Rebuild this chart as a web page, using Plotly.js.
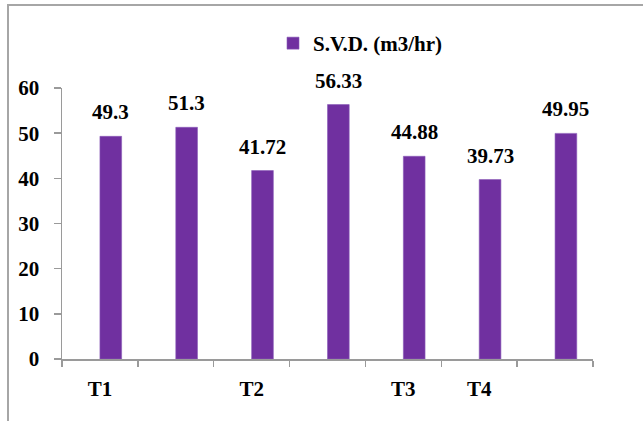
<!DOCTYPE html>
<html>
<head>
<meta charset="utf-8">
<script src="https://cdn.plot.ly/plotly-3.0.1.min.js"></script>
<style>
  html, body { margin: 0; padding: 0; background: #ffffff; }
  #chart { width: 643px; height: 421px; }
</style>
</head>
<body>
<div id="chart"></div>
<script>
// ---- data ----
const categories = ["T1", " ", "T2", "  ", "T3", "T4", "   "];
const svdValues = [49.3, 51.3, 41.72, 56.33, 44.88, 39.73, 49.95];
const svdLabels = ["49.3", "51.3", "41.72", "56.33", "44.88", "39.73", "49.95"];
const seriesName = "S.V.D. (m3/hr)";
const yTicks = [0, 10, 20, 30, 40, 50, 60];

// ---- style ----
const W = 643, H = 421;
const M = { l: 62, r: 50, t: 88, b: 62 };
const plotW = W - M.l - M.r, plotH = H - M.t - M.b;
const barWidth = 0.286;
const purple = "#7030A0";
const axisGray = "#9a9a9a";
const font = "Times New Roman, Liberation Serif, DejaVu Serif, serif";

function px2paperX(px) { return (px - M.l) / plotW; }
function px2paperY(py) { return (H - M.b - py) / plotH; }

const trace = {
  type: "bar",
  name: seriesName,
  x: categories,
  y: svdValues,
  width: barWidth,
  offset: 0,
  marker: { color: purple, line: { color: "#8a5bb8", width: 0.6 } },
  hoverinfo: "skip",
  showlegend: true
};

const annotations = svdValues.map((v, i) => ({
  x: i + barWidth / 2,
  y: v,
  xref: "x",
  yref: "y",
  text: "<b>" + svdLabels[i] + "</b>",
  showarrow: false,
  xanchor: "center",
  yanchor: "bottom",
  yshift: 10,
  font: { family: font, size: 21, color: "#000000" }
}));

const shapes = [
  { type: "line", xref: "paper", yref: "paper",
    x0: px2paperX(8), x1: px2paperX(8), y0: px2paperY(5), y1: px2paperY(H + 2),
    line: { color: "#a6a6a6", width: 2 } },
  { type: "line", xref: "paper", yref: "paper",
    x0: px2paperX(7), x1: px2paperX(W + 2), y0: px2paperY(5), y1: px2paperY(5),
    line: { color: "#a6a6a6", width: 2 } }
];

const layout = {
  width: W,
  height: H,
  margin: M,
  font: { family: font },
  paper_bgcolor: "#ffffff",
  plot_bgcolor: "#ffffff",
  showlegend: true,
  legend: {
    orientation: "h",
    x: px2paperX(273),
    y: px2paperY(23),
    xanchor: "left",
    yanchor: "top",
    font: { family: font, size: 21, color: "#000000", weight: "bold" },
    bgcolor: "rgba(0,0,0,0)"
  },
  xaxis: {
    type: "category",
    categoryorder: "array",
    categoryarray: categories,
    range: [-0.5, categories.length - 0.5],
    tickson: "boundaries",
    ticks: "outside",
    ticklen: 6,
    tickcolor: axisGray,
    tickwidth: 1.5,
    showline: true,
    linecolor: axisGray,
    linewidth: 1.5,
    showgrid: false,
    zeroline: false,
    ticklabelstandoff: 10,
    tickfont: { family: font, size: 21, color: "#000000", weight: "bold" },
    fixedrange: true
  },
  yaxis: {
    range: [0, 60],
    tickmode: "array",
    tickvals: yTicks,
    ticktext: yTicks.map(String),
    ticks: "outside",
    ticklen: 7,
    tickcolor: axisGray,
    tickwidth: 1.5,
    showline: true,
    linecolor: axisGray,
    linewidth: 1.5,
    showgrid: false,
    zeroline: false,
    ticklabelstandoff: 10,
    tickfont: { family: font, size: 21, color: "#000000", weight: "bold" },
    fixedrange: true
  },
  annotations: annotations,
  shapes: shapes
};

Plotly.newPlot("chart", [trace], layout, { displayModeBar: false, staticPlot: true });
</script>
</body>
</html>
